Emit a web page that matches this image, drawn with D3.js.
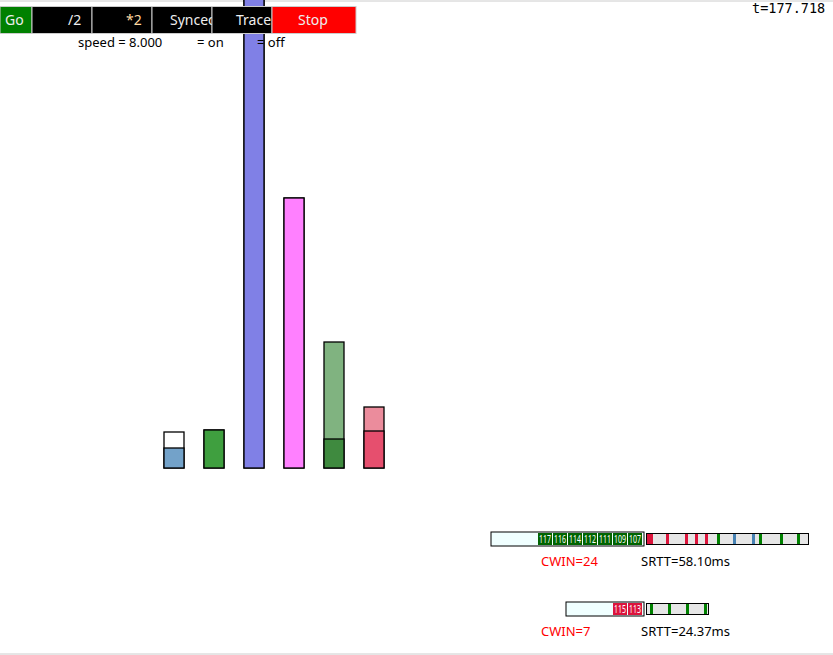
<!DOCTYPE html><html><head><meta charset="utf-8"><script src="https://d3js.org/d3.v7.min.js"></script>
<style>body{margin:0}svg{display:block;font-family:"Noto Sans","Open Sans",sans-serif}</style></head><body><svg id="c" width="833" height="655"></svg>
<script>
const barNames=["a","b","c","d","e","f"];
const barTotal=[36,38,480,270,126,61];
const barLower=[20,38,480,270,29,37];
const upperColors=["#ffffff","#3f9f3f","#8080e6","#ff80ff","#80b380","#eb8c9c"];
const lowerColors=["#73a2c9","#3f9f3f","#8080e6","#ff80ff","#3f8a3f","#e64f6e"];
const buttons=["Go","/2","*2","Synced","Trace","Stop"];
const buttonW=[32,60,60,60,60,84];
const flow1Packets=["117","116","114","112","111","109","107"];
const flow2Packets=["115","113"];
const flow1Ticks=[[0,"#dc143c",6],[19,"#dc143c",3],[38,"#dc143c",3],[48,"#dc143c",3],[58,"#dc143c",3],[70,"#008000",3],[86,"#4682b4",3],[105,"#4682b4",3],[112,"#008000",3],[133,"#008000",3],[150,"#008000",3]];
const flow2Ticks=[[3,"#008000",3],[21,"#008000",3],[39,"#008000",3],[57,"#008000",3]];

const svg=d3.select("#c");
svg.append("line").attr("x1",0).attr("x2",833).attr("y1",1).attr("y2",1).attr("stroke","#ccc");
svg.append("line").attr("x1",0).attr("x2",833).attr("y1",654).attr("y2",654).attr("stroke","#ccc");
const x=d3.scaleBand().domain(barNames).range([154,394]).paddingInner(0.5).paddingOuter(0.25);
const y=d3.scaleLinear().domain([0,468]).range([468,0]);
const g=svg.append("g");
g.selectAll(".u").data(barNames).join("rect").attr("x",d=>x(d)).attr("width",x.bandwidth())
 .attr("y",(d,i)=>y(barTotal[i])).attr("height",(d,i)=>y(0)-y(barTotal[i])).attr("fill",(d,i)=>upperColors[i]).attr("stroke","#000").attr("stroke-width",1.3);
g.selectAll(".l").data(barNames).join("rect").attr("x",d=>x(d)).attr("width",x.bandwidth())
 .attr("y",(d,i)=>y(barLower[i])).attr("height",(d,i)=>y(0)-y(barLower[i])).attr("fill",(d,i)=>lowerColors[i]).attr("stroke","#000").attr("stroke-width",1.3);
let bx=0;const tx=[5,68,126,170,236,298];
buttons.forEach((b,i)=>{
 const c=i==0?"#008000":i==5?"#ff0000":"#000";
 svg.append("rect").attr("x",bx).attr("y",6.5).attr("width",buttonW[i]).attr("height",27).attr("fill",c).attr("stroke","#ccc");
 const cp="cp"+i;
 svg.append("clipPath").attr("id",cp).append("rect").attr("x",bx).attr("y",6).attr("width",buttonW[i]).attr("height",28);
 svg.append("text").attr("clip-path",`url(#${cp})`).attr("x",tx[i]).attr("y",25).attr("fill",i==2?"#ffd9a0":"#eee").attr("font-size",14).text(b);
 bx+=buttonW[i];
});
[["speed = 8.000",78],["= on",197],["= off",257]].forEach(t=>svg.append("text").attr("x",t[1]).attr("y",47).attr("font-size",13).text(t[0]));
svg.append("text").attr("x",752).attr("y",13).attr("font-family","DejaVu Sans Mono").attr("font-size",13.5).text("t=177.718");
function flow(qx0,qy,pk,pkColor,ticks,tw,cwin,srtt,ty){
 svg.append("rect").attr("x",qx0).attr("y",qy).attr("width",644-qx0).attr("height",14).attr("fill","#f0ffff").attr("stroke","#000");
 pk.forEach((p,i)=>{const px=642-(pk.length-i)*15;
  svg.append("rect").attr("x",px+1).attr("y",qy+1).attr("width",14).attr("height",12).attr("fill",pkColor);
  svg.append("text").attr("x",px+8).attr("y",qy+11).attr("text-anchor","middle").attr("fill","#fff").attr("font-size",10).attr("textLength",12).attr("lengthAdjust","spacingAndGlyphs").text(p);});
 const sx=d3.scaleLinear().domain([0,tw]).range([647,647+tw]);
 svg.append("rect").attr("x",646.5).attr("y",qy+1.5).attr("width",tw+1).attr("height",11).attr("fill","#e6e6e6").attr("stroke","#000");
 ticks.forEach(t=>svg.append("rect").attr("x",sx(t[0])).attr("y",qy+2).attr("width",t[2]).attr("height",10).attr("fill",t[1]));
 svg.append("text").attr("x",541).attr("y",ty).attr("fill","#ff0000").attr("font-size",13).text(cwin);
 svg.append("text").attr("x",641).attr("y",ty).attr("font-size",13).text(srtt);
}
flow(491,532,flow1Packets,"#006400",flow1Ticks,161,"CWIN=24","SRTT=58.10ms",566);
flow(566,602,flow2Packets,"#dc143c",flow2Ticks,61,"CWIN=7","SRTT=24.37ms",636);
</script></body></html>
